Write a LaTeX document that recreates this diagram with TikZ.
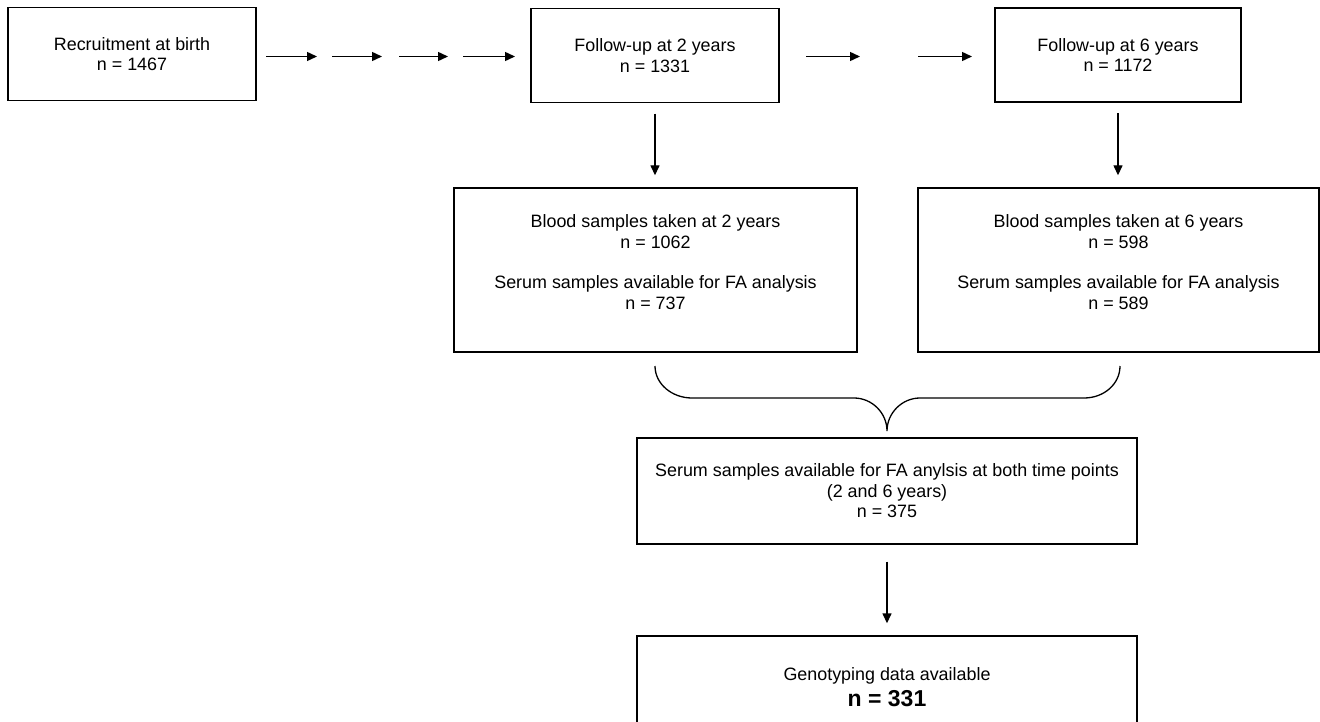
\documentclass[tikz,border=0pt]{standalone}
\usepackage{fontspec}
\setmainfont{Liberation Sans}
\usetikzlibrary{arrows.meta}

\tikzset{every picture/.style={line width=1.4pt}}
\tikzset{
  box/.style={draw, rectangle, inner sep=0pt, align=center, font=\fontsize{17.9}{20.5}\selectfont},
  arr/.style={line width=1.4pt, -{Triangle[length=10pt,width=9pt]}}
}

\begin{document}
\begin{tikzpicture}[x=1pt,y=1pt,yscale=-1,xscale=1]
%set diagram left start at 0, and has height of 722
\useasboundingbox (0,0) rectangle (1320,722);

%Box: recruitment at birth
\node [box, minimum width=248pt, minimum height=93pt] (birth) at (132,54) {Recruitment at birth\\n = 1467};
%Box: follow-up at 2 years
\node [box, minimum width=248pt, minimum height=94pt] (fu2) at (655,55.5) {Follow-up at 2 years\\n = 1331};
%Box: follow-up at 6 years
\node [box, minimum width=246pt, minimum height=94pt] (fu6) at (1118,55) {Follow-up at 6 years\\n = 1172};
%Box: blood samples at 2 years
\node [box, minimum width=403pt, minimum height=164pt, text depth=16pt] (bl2) at (655.5,270) {Blood samples taken at 2 years\\n = 1062\\[20pt]Serum samples available for FA analysis\\n = 737};
%Box: blood samples at 6 years
\node [box, minimum width=401pt, minimum height=164pt, text depth=16pt] (bl6) at (1118.5,270) {Blood samples taken at 6 years\\n = 598\\[20pt]Serum samples available for FA analysis\\n = 589};
%Box: both time points
\node [box, minimum width=500pt, minimum height=106pt] (both) at (887,491) {Serum samples available for FA anylsis at both time points\\(2 and 6 years)\\n = 375};
%Box: genotyping
\node [box, minimum width=500pt, minimum height=102pt] (geno) at (887,687) {Genotyping data available\\[6pt]\fontsize{23}{26}\selectfont\bfseries n = 331};

%Arrow ends between birth and 2 years
\coordinate (ba1) at (266,56.5);
\coordinate (bb1) at (317,56.5);
\coordinate (ba2) at (332,56.5);
\coordinate (bb2) at (382,56.5);
\coordinate (ba3) at (399,56.5);
\coordinate (bb3) at (448,56.5);
\coordinate (ba4) at (463,56.5);
\coordinate (bb4) at (515,56.5);
%Arrow ends between 2 and 6 years
\coordinate (fa1) at (806,56.5);
\coordinate (fb1) at (860,56.5);
\coordinate (fa2) at (918,56.5);
\coordinate (fb2) at (972,56.5);

%Straight Lines
\draw [arr] (ba1) -- (bb1);
\draw [arr] (ba2) -- (bb2);
\draw [arr] (ba3) -- (bb3);
\draw [arr] (ba4) -- (bb4);
\draw [arr] (fa1) -- (fb1);
\draw [arr] (fa2) -- (fb2);
%Straight Lines
\draw [arr, shorten <=10.5pt, shorten >=12pt] (fu2.south) -- (fu2.south |- bl2.north);
\draw [arr, shorten <=10.5pt, shorten >=12pt] (fu6.south) -- (fu6.south |- bl6.north);
\draw [arr, shorten <=17pt, shorten >=12pt] (both.south) -- (geno.north);

%Brace ends
\coordinate (brl) at (655,366);
\coordinate (brr) at (1120,366);
\coordinate (brt) at (887,431);
%Curve Lines
\draw [line width=1.3pt] (brl) .. controls (655,384) and (672,398) .. (692,398) -- (854,398)
  .. controls (872,398) and (887,413) .. (brt)
  .. controls (887,413) and (902,398) .. (920,398) -- (1084,398)
  .. controls (1104,398) and (1120,384) .. (brr);

\end{tikzpicture}
\end{document}
